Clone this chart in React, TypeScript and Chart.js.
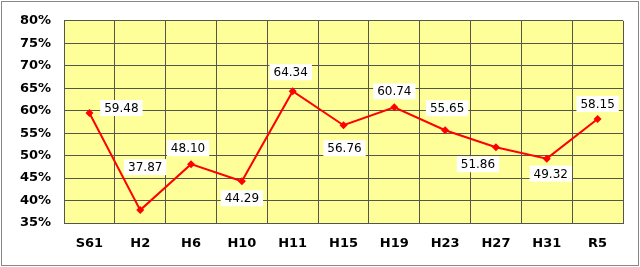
import React, { useEffect, useRef } from "react";
import { Chart, registerables } from "chart.js";

Chart.register(...registerables);

const categories = ["S61", "H2", "H6", "H10", "H11", "H15", "H19", "H23", "H27", "H31", "R5"];
const values = [59.48, 37.87, 48.1, 44.29, 64.34, 56.76, 60.74, 55.65, 51.86, 49.32, 58.15];
const valueLabels = ["59.48", "37.87", "48.10", "44.29", "64.34", "56.76", "60.74", "55.65", "51.86", "49.32", "58.15"];
// label offsets relative to point (dx, dy) in px
const labelDx = [32, 5, -3, 0, -2, 1, 0, 2, -18, 4, 0];
const labelDy = [-5, -43, -16, 17, -19, 23, -16, -22, 17, 15, -15];

const gridColor = "#55554a";

const labelPlugin = {
  id: "valueLabels",
  afterDatasetsDraw(chart: any) {
    const ctx = chart.ctx;
    const meta = chart.getDatasetMeta(0);
    ctx.save();
    ctx.font = "12px 'DejaVu Sans'";
    ctx.textAlign = "center";
    ctx.textBaseline = "middle";
    meta.data.forEach((pt: any, i: number) => {
      const x = pt.x + labelDx[i];
      const y = pt.y + labelDy[i];
      const text = valueLabels[i];
      const w = ctx.measureText(text).width + 8;
      const h = 16;
      ctx.fillStyle = "#ffffff";
      ctx.fillRect(x - w / 2, y - h / 2, w, h);
      ctx.fillStyle = "#000000";
      ctx.fillText(text, x, y + 1);
    });
    ctx.restore();
  },
};

const bgPlugin = {
  id: "plotBg",
  beforeDraw(chart: any) {
    const { ctx, chartArea } = chart;
    ctx.save();
    ctx.fillStyle = "#ffffff";
    ctx.fillRect(0, 0, chart.width, chart.height);
    ctx.fillStyle = "#FFFF99";
    ctx.fillRect(chartArea.left, chartArea.top, chartArea.right - chartArea.left, chartArea.bottom - chartArea.top);
    ctx.restore();
  },
};

export default function App() {
  const ref = useRef<HTMLCanvasElement>(null);
  useEffect(() => {
    document.body.style.margin = "0";
    const chart = new Chart(ref.current!, {
      type: "line",
      data: {
        labels: categories,
        datasets: [
          {
            data: values,
            borderColor: "#FF0000",
            backgroundColor: "#FF0000",
            borderWidth: 2,
            pointStyle: "rectRot",
            pointRadius: 4,
            pointBorderWidth: 0,
            tension: 0,
          },
        ],
      },
      options: {
        animation: false,
        responsive: false,
        devicePixelRatio: 1,
        layout: { padding: { left: 0, top: 17, right: 17, bottom: 0 } },
        plugins: { legend: { display: false }, tooltip: { enabled: false } },
        scales: {
          x: {
            offset: true,
            grid: { offset: true, color: gridColor, drawTicks: false },
            border: { color: gridColor },
            ticks: { color: "#000", font: { family: "'DejaVu Sans'", size: 13, weight: "bold" }, padding: 13 },
            afterFit: (s: any) => { s.height = 44; },
          },
          y: {
            min: 35,
            max: 80,
            grid: { color: gridColor, drawTicks: false },
            border: { color: gridColor },
            ticks: {
              stepSize: 5,
              color: "#000",
              padding: 13,
              font: { family: "'DejaVu Sans'", size: 13, weight: "bold" },
              callback: (v: any) => v + "%",
            },
            afterFit: (s: any) => { s.width = 64; },
          },
        },
      },
      plugins: [bgPlugin, labelPlugin],
    });
    return () => chart.destroy();
  }, []);
  return (
    <div style={{ position: "relative", width: 640, height: 267 }}>
      <canvas ref={ref} width={640} height={267} style={{ display: "block" }} />
      <div
        style={{
          position: "absolute",
          left: 1,
          top: 1,
          width: 638,
          height: 265,
          boxSizing: "border-box",
          border: "1px solid #888",
          pointerEvents: "none",
        }}
      />
    </div>
  );
}
